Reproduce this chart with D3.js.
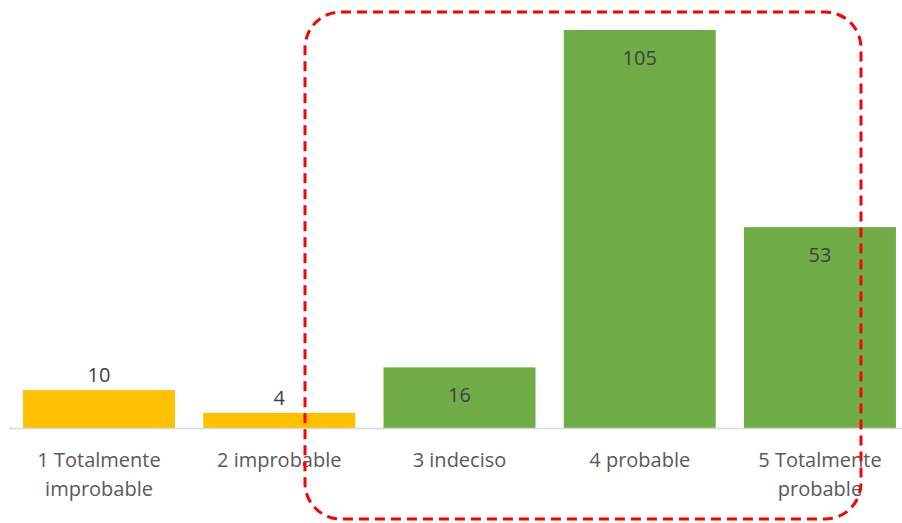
<!DOCTYPE html>
<html>
<head>
<meta charset="utf-8">
<script src="https://cdn.jsdelivr.net/npm/d3@7"></script>
<style>
  body { margin: 0; background: #fff; }
  svg { display: block; font-family: "Open Sans", "Liberation Sans", sans-serif; }
</style>
</head>
<body>
<div id="chart"></div>
<script>
// Data
const categories = ['1 Totalmente improbable', '2 improbable', '3 indeciso', '4 probable', '5 Totalmente probable'];
const labelLines = [['1 Totalmente', 'improbable'], ['2 improbable'], ['3 indeciso'], ['4 probable'], ['5 Totalmente', 'probable']];
const values = [10, 4, 16, 105, 53];
const groups = ['neg', 'neg', 'pos', 'pos', 'pos'];

const width = 902;
const height = 523;
const baseY = 428;

const svg = d3.select('#chart')
    .append('svg')
    .attr('width', width)
    .attr('height', height);

const x = d3.scaleBand()
    .domain(categories)
    .range([9, 910])
    .paddingInner(0.157)
    .paddingOuter(0.078);

const y = d3.scaleLinear()
    .domain([0, 105])
    .range([baseY, 30]);

const color = d3.scaleOrdinal()
    .domain(['neg', 'pos'])
    .range(['#FFC000', '#70AD47']);

const data = categories.map((c, i) => ({cat: c, value: values[i], group: groups[i], lines: labelLines[i]}));

// bars
svg.append('g')
    .selectAll('rect')
    .data(data)
    .enter().append('rect')
    .attr('x', d => x(d.cat))
    .attr('y', d => y(d.value))
    .attr('width', x.bandwidth())
    .attr('height', d => baseY - y(d.value))
    .attr('fill', d => color(d.group));

// axis line
svg.append('line')
    .attr('x1', 9)
    .attr('x2', width)
    .attr('y1', baseY + 0.5)
    .attr('y2', baseY + 0.5)
    .attr('stroke', '#d9d9d9')
    .attr('stroke-width', 1.5);

// data labels: small bars outside, big bars inside
svg.append('g')
    .selectAll('text')
    .data(data)
    .enter().append('text')
    .attr('x', d => x(d.cat) + x.bandwidth() / 2)
    .attr('y', d => d.value < 12 ? y(d.value) - 8 : y(d.value) + 35)
    .attr('text-anchor', 'middle')
    .attr('font-size', 20)
    .attr('fill', '#404040')
    .text(d => d.value);

// category labels
const cat = svg.append('g')
    .selectAll('text')
    .data(data)
    .enter().append('text')
    .attr('x', d => x(d.cat) + x.bandwidth() / 2)
    .attr('y', 467)
    .attr('text-anchor', 'middle')
    .attr('font-size', 20)
    .attr('fill', '#595959');

cat.selectAll('tspan')
    .data(d => d.lines.map(l => ({l, cx: x(d.cat) + x.bandwidth() / 2})))
    .enter().append('tspan')
    .attr('x', d => d.cx)
    .attr('dy', (d, i) => i === 0 ? 0 : 29)
    .text(d => d.l);

// dashed highlight box
svg.append('rect')
    .attr('x', 305)
    .attr('y', 12)
    .attr('width', 556)
    .attr('height', 507)
    .attr('rx', 36)
    .attr('ry', 36)
    .attr('fill', 'none')
    .attr('stroke', '#FF0000')
    .attr('stroke-width', 3)
    .attr('stroke-dasharray', '10,6');
</script>
</body>
</html>
